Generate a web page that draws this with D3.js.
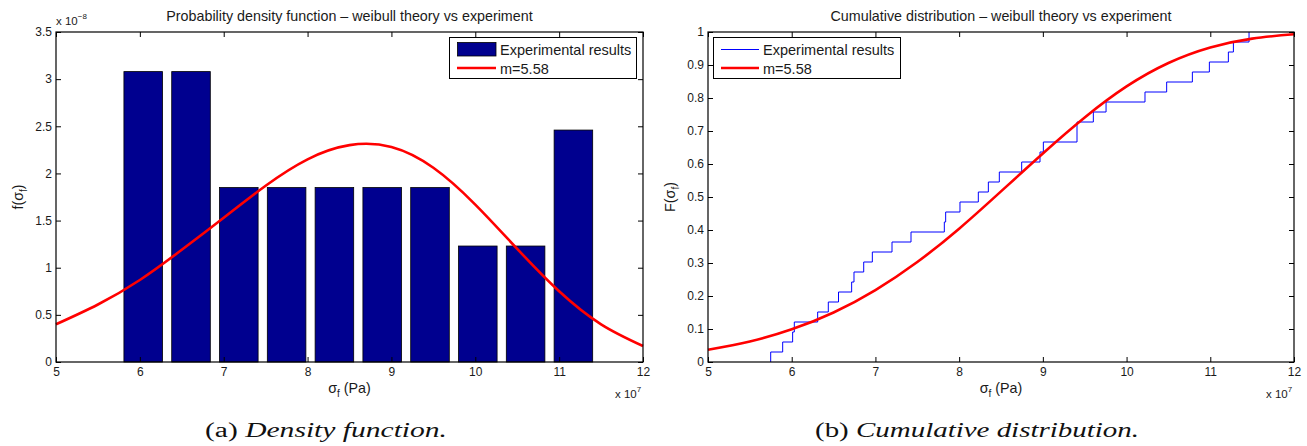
<!DOCTYPE html>
<html>
<head>
<meta charset="utf-8">
<script src="https://cdn.jsdelivr.net/npm/d3@7"></script>
<style>
  body { margin: 0; background: #fff; }
  text { font-family: "Liberation Sans", Arial, Helvetica, sans-serif; fill: #1a1a1a; }
  .caption { font-family: "Liberation Serif", "DejaVu Serif", serif; fill: #111; }
</style>
</head>
<body>
<svg id="chart" width="1307" height="446" viewBox="0 0 1307 446"></svg>
<script>
// histogram bars (x in 1e7 Pa, height in 1e-8)
const binCenters = [6.04, 6.61, 7.18, 7.75, 8.32, 8.89, 9.46, 10.03, 10.60, 11.17];
const binHeights = [3.08, 3.08, 1.85, 1.85, 1.85, 1.85, 1.85, 1.23, 1.23, 2.46];

// weibull fit m=5.58
const fitX   = [5, 5.5, 6, 6.5, 7, 7.5, 8, 8.5, 9, 9.5, 10, 10.5, 11, 11.5, 12];
const pdfFit = [0.40, 0.61, 0.87, 1.19, 1.53, 1.87, 2.15, 2.30, 2.28, 2.06, 1.67, 1.20, 0.75, 0.40, 0.17];
const cdfFit = [0.037, 0.062, 0.099, 0.150, 0.218, 0.303, 0.404, 0.517, 0.632, 0.741, 0.835, 0.906, 0.953, 0.980, 0.993];

// experimental samples (step positions of the empirical cdf), 1e7 Pa
const samples = [5.749, 5.892, 6.011, 6.031, 6.310, 6.437, 6.559, 6.716, 6.744, 6.860,
                 6.963, 7.198, 7.425, 7.823, 7.839, 8.010, 8.229, 8.349, 8.480, 8.747,
                 8.966, 9.006, 9.408, 9.408, 9.603, 9.755, 10.220, 10.479, 10.786, 10.989,
                 11.216, 11.276, 11.463];

const xTicks = [5, 6, 7, 8, 9, 10, 11, 12];
const pdfTicks = [0, 0.5, 1, 1.5, 2, 2.5, 3, 3.5];
const cdfTicks = [0, 0.1, 0.2, 0.3, 0.4, 0.5, 0.6, 0.7, 0.8, 0.9, 1];

const svg = d3.select("#chart");

function panel(left, right, yMax, yTicks, opts) {
    const top = 32, bottom = 362;
    const x = d3.scaleLinear().domain([5, 12]).range([left, right]);
    const y = d3.scaleLinear().domain([0, yMax]).range([bottom, top]);
    const g = svg.append("g");

    // marks first, then axes on top
    const marks = g.append("g");

    // inward ticks on all four sides
    g.append("g").attr("transform", `translate(0,${bottom})`)
        .call(d3.axisBottom(x).tickValues(xTicks).tickSize(-5).tickPadding(5.5).tickFormat(d3.format("d")))
        .call(a => a.select(".domain").remove());
    g.append("g").attr("transform", `translate(0,${top})`)
        .call(d3.axisTop(x).tickValues(xTicks).tickSize(-5).tickFormat(""))
        .call(a => a.select(".domain").remove());
    g.append("g").attr("transform", `translate(${left},0)`)
        .call(d3.axisLeft(y).tickValues(yTicks).tickSize(-5).tickPadding(4).tickFormat(d => String(d)))
        .call(a => a.select(".domain").remove());
    g.append("g").attr("transform", `translate(${right},0)`)
        .call(d3.axisRight(y).tickValues(yTicks).tickSize(-5).tickFormat(""))
        .call(a => a.select(".domain").remove());
    g.selectAll(".tick line").attr("stroke", "#000");
    g.selectAll(".tick text").attr("font-size", 12).attr("fill", "#1a1a1a")
        .attr("font-family", "Liberation Sans, Arial, sans-serif");

    g.append("rect")
        .attr("x", left).attr("y", top)
        .attr("width", right - left).attr("height", bottom - top)
        .attr("fill", "none").attr("stroke", "#000").attr("stroke-width", 1.2);

    // title
    g.append("text").attr("x", (left + right) / 2).attr("y", 21)
        .attr("text-anchor", "middle").attr("font-size", 14.3).text(opts.title);

    // x label sigma_f (Pa)
    const xl = g.append("text").attr("x", (left + right) / 2).attr("y", 393)
        .attr("text-anchor", "middle").attr("font-size", 14.3);
    xl.append("tspan").text("σ");
    xl.append("tspan").attr("font-size", 10).attr("dy", 4).text("f");
    xl.append("tspan").attr("dy", -4).text(" (Pa)");

    // y label
    const yl = g.append("text")
        .attr("transform", `translate(${left - opts.yLabelOff},${(top + bottom) / 2}) rotate(-90)`)
        .attr("text-anchor", "middle").attr("font-size", 14.3);
    yl.append("tspan").text(opts.yLetter + "(σ");
    yl.append("tspan").attr("font-size", 10).attr("dy", 4).text("f");
    yl.append("tspan").attr("dy", -4).text(")");

    // x 10^7 exponent
    const ex = g.append("text").attr("x", right - 28).attr("y", 398).attr("font-size", 11.5);
    ex.append("tspan").text("x 10");
    ex.append("tspan").attr("font-size", 8).attr("dy", -6).text("7");

    // caption (sub-figure caption, a bit left of the axes centre)
    const cap = g.append("text").attr("class", "caption")
        .attr("x", opts.capX).attr("y", 437)
        .attr("text-anchor", "middle").attr("font-size", 20)
        .attr("textLength", opts.capW).attr("lengthAdjust", "spacingAndGlyphs");
    cap.append("tspan").text(opts.capTag + " ");
    cap.append("tspan").attr("font-style", "italic").text(opts.capText);

    return { g, marks, x, y, top, bottom, left, right };
}

// ---------- (a) density ----------
const pa = panel(56, 643, 3.5, pdfTicks, {
    title: "Probability density function – weibull theory vs experiment",
    yLetter: "f", yLabelOff: 33, capTag: "(a)", capText: "Density function.",
    capX: 326, capW: 242
});

const barW = 0.46;
pa.marks.selectAll("rect.bar")
    .data(binCenters)
    .enter()
    .append("rect")
    .attr("class", "bar")
    .attr("x", d => pa.x(d - barW / 2))
    .attr("width", d => pa.x(d + barW / 2) - pa.x(d - barW / 2))
    .attr("y", (d, i) => pa.y(binHeights[i]))
    .attr("height", (d, i) => pa.y(0) - pa.y(binHeights[i]))
    .attr("fill", "#00008f")
    .attr("stroke", "#000")
    .attr("stroke-width", 0.8);

pa.marks.append("path")
    .datum(fitX.map((d, i) => [d, pdfFit[i]]))
    .attr("fill", "none")
    .attr("stroke", "#ff0000")
    .attr("stroke-width", 2.6)
    .attr("d", d3.line().x(d => pa.x(d[0])).y(d => pa.y(d[1])).curve(d3.curveNatural));

// exponent on y
const ey = pa.g.append("text").attr("x", 56).attr("y", 25).attr("font-size", 11.5);
ey.append("tspan").text("x 10");
ey.append("tspan").attr("font-size", 8).attr("dy", -6).text("−8");

// legend (a)
const la = pa.g.append("g");
la.append("rect").attr("x", 449.5).attr("y", 37.5).attr("width", 187).attr("height", 41)
    .attr("fill", "#fff").attr("stroke", "#000").attr("stroke-width", 1);
la.append("rect").attr("x", 457.5).attr("y", 42.5).attr("width", 38.5).attr("height", 13.5)
    .attr("fill", "#00008f").attr("stroke", "#000").attr("stroke-width", 0.8);
la.append("line").attr("x1", 457).attr("x2", 496).attr("y1", 68).attr("y2", 68)
    .attr("stroke", "#ff0000").attr("stroke-width", 2.6);
la.append("text").attr("x", 500).attr("y", 55).attr("font-size", 14.5).text("Experimental results");
la.append("text").attr("x", 500).attr("y", 73.5).attr("font-size", 14.5).text("m=5.58");

// ---------- (b) cumulative ----------
const pb = panel(708, 1294, 1, cdfTicks, {
    title: "Cumulative distribution – weibull theory vs experiment",
    yLetter: "F", yLabelOff: 33, capTag: "(b)", capText: "Cumulative distribution.",
    capX: 977, capW: 324
});

const n = samples.length;
const ecdf = [[samples[0], 0]].concat(samples.map((s, i) => [s, (i + 1) / n]));
pb.marks.append("path")
    .datum(ecdf)
    .attr("fill", "none")
    .attr("stroke", "#0000ff")
    .attr("stroke-width", 1)
    .attr("d", d3.line().x(d => pb.x(d[0])).y(d => pb.y(d[1])).curve(d3.curveStepAfter));

pb.marks.append("path")
    .datum(fitX.map((d, i) => [d, cdfFit[i]]))
    .attr("fill", "none")
    .attr("stroke", "#ff0000")
    .attr("stroke-width", 2.6)
    .attr("d", d3.line().x(d => pb.x(d[0])).y(d => pb.y(d[1])).curve(d3.curveNatural));

// legend (b)
const lb = pb.g.append("g");
lb.append("rect").attr("x", 713.5).attr("y", 37.5).attr("width", 187).attr("height", 41)
    .attr("fill", "#fff").attr("stroke", "#000").attr("stroke-width", 1);
lb.append("line").attr("x1", 721).attr("x2", 759).attr("y1", 49.5).attr("y2", 49.5)
    .attr("stroke", "#0000ff").attr("stroke-width", 1);
lb.append("line").attr("x1", 721).attr("x2", 759).attr("y1", 68).attr("y2", 68)
    .attr("stroke", "#ff0000").attr("stroke-width", 2.6);
lb.append("text").attr("x", 763).attr("y", 55).attr("font-size", 14.5).text("Experimental results");
lb.append("text").attr("x", 763).attr("y", 73.5).attr("font-size", 14.5).text("m=5.58");
</script>
</body>
</html>
